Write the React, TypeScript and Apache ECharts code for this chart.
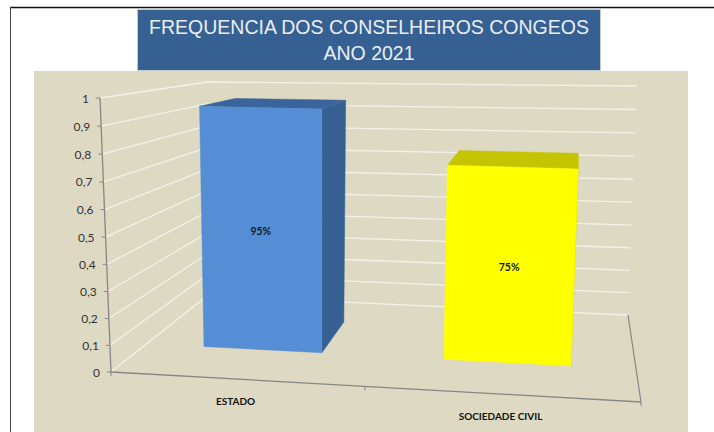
import React, { useEffect, useRef } from "react";
import * as echarts from "echarts";

const categories = ["ESTADO", "SOCIEDADE CIVIL"];
const frequencies = [0.95, 0.75];
const percentLabels = ["95%", "75%"];
const yTicks = [0, 0.1, 0.2, 0.3, 0.4, 0.5, 0.6, 0.7, 0.8, 0.9, 1];
const titleLines = ["FREQUENCIA DOS CONSELHEIROS CONGEOS", "ANO 2021"];

const G = { left: 111, top: 98, w: 530, h: 274 };
// corners of the 3D box: [x, y]; u across, v up, d into the page
const C = {
  f00: [111, 372], f10: [641, 402], f01: [100, 98], f11: [655, 113],
  b00: [207, 296], b10: [628, 315], b01: [207, 82], b11: [637, 86],
};
const mix = (a: number, b: number, t: number) => a + (b - a) * t;
function project(u: number, v: number, d: number): number[] {
  const w = v - 0.03 * v * (1 - v);
  return [0, 1].map((i) =>
    mix(
      mix(mix(C.f00[i], C.f10[i], u), mix(C.f01[i], C.f11[i], u), w),
      mix(mix(C.b00[i], C.b10[i], u), mix(C.b01[i], C.b11[i], u), w),
      d,
    ),
  );
}
const toU = (px: number) => (px - G.left) / G.w;
const toV = (py: number) => (G.top + G.h - py) / G.h;

const AXIS = "#868686";
const GRIDLINE = "#f3f1ea";
const BAR_STYLE = [
  { front: "#558ed5", top: "#3a659c", side: "#376092" },
  { front: "#ffff00", top: "#c4c400", side: "#c4c400" },
];
const BAR_HALF = [0.1205, 0.13];
const BAR_SHIFT = -0.013;
const D_FRONT = 0.375;
const D_BACK = 0.76;

function poly(points: number[][], fill: string) {
  return { type: "polygon", shape: { points }, style: { fill, stroke: fill, lineWidth: 0.5 } };
}
function line(points: number[][], stroke: string, lineWidth: number) {
  return { type: "polyline", shape: { points }, style: { stroke, lineWidth, fill: "none" } };
}

function renderWall(_: any, api: any) {
  const tick = api.value(1);
  const v = toV(api.coord([0, tick])[1]);
  const a = project(0, v, 0);
  const children: any[] = [
    line([a, project(0, v, 1), project(1, v, 1)], GRIDLINE, 1.3),
    line([[a[0] - 4, a[1]], a], AXIS, 1),
    {
      type: "text",
      style: {
        text: String(tick).replace(".", ","),
        x: a[0] - 11,
        y: a[1],
        align: "right",
        verticalAlign: "middle",
        font: "12px Lato",
        fill: "#333333",
      },
    },
  ];
  return { type: "group", children };
}

function renderFloor(_: any, api: any) {
  const P00 = project(0, 0, 0);
  const P10 = project(1, 0, 0);
  const tickAt = (u: number) => {
    const p = project(u, 0, 0);
    return line([p, [p[0], p[1] + 4]], AXIS, 1);
  };
  const top = project(0, 1, 0);
  return {
    type: "group",
    children: [
      line([top, P00], AXIS, 1.3),
      line([P00, P10], AXIS, 1.3),
      line([project(1, 0, 1), P10], AXIS, 1.2),
      tickAt(0),
      tickAt(0.479),
      tickAt(1),
    ],
  };
}

function renderBar(params: any, api: any) {
  const i = params.dataIndex;
  const c = api.coord([api.value(0), api.value(1)]);
  const u = toU(c[0]) + BAR_SHIFT;
  const v = toV(c[1]);
  const h = BAR_HALF[i];
  const s = BAR_STYLE[i];
  const uL = u - h;
  const uR = u + h;
  const fbl = project(uL, 0, D_FRONT);
  const fbr = project(uR, 0, D_FRONT);
  const ftl = project(uL, v, D_FRONT);
  const ftr = project(uR, v, D_FRONT);
  const btl = project(uL, v, D_BACK);
  const btr = project(uR, v, D_BACK);
  const bbr = project(uR, 0, D_BACK);
  const mid = project(u, v / 2, D_FRONT);
  const labelAnchor = project(u + 0.013, 0, 0);
  return {
    type: "group",
    children: [
      poly([fbr, ftr, btr, bbr], s.side),
      poly([ftl, ftr, btr, btl], s.top),
      poly([fbl, fbr, ftr, ftl], s.front),
      {
        type: "text",
        style: {
          text: percentLabels[i],
          x: mid[0] - 1,
          y: mid[1] + 1,
          align: "center",
          verticalAlign: "middle",
          font: "bold 10.5px Lato",
          fill: "#111a20",
        },
      },
      {
        type: "text",
        style: {
          text: categories[i],
          x: labelAnchor[0] - 8,
          y: labelAnchor[1] + 21.5,
          align: "center",
          verticalAlign: "middle",
          font: "bold 10px Lato",
          fill: "#111111",
        },
      },
    ],
  };
}

export default function App() {
  const ref = useRef<HTMLDivElement>(null);
  useEffect(() => {
    const chart = echarts.init(ref.current!, undefined, { renderer: "svg" });
    chart.setOption({
      animation: false,
      backgroundColor: "#ffffff",
      grid: { left: G.left, top: G.top, width: G.w, height: G.h },
      xAxis: { type: "category", data: categories, show: false },
      yAxis: { type: "value", min: 0, max: 1, interval: 0.1, show: false },
      graphic: [
        { type: "rect", z: -20, shape: { x: 34, y: 71, width: 654, height: 361 }, style: { fill: "#ddd9c3" } },
        { type: "rect", z: -19, shape: { x: 137.5, y: 9.5, width: 463, height: 61 }, style: { fill: "#366092", stroke: "#c4ccd6", lineWidth: 1 } },
        { type: "line", z: -18, shape: { x1: 10, y1: 7.5, x2: 714, y2: 7.5 }, style: { stroke: "#111111", lineWidth: 1.5 } },
        { type: "line", z: -18, shape: { x1: 10.5, y1: 7, x2: 10.5, y2: 432 }, style: { stroke: "#444444", lineWidth: 1 } },
      ],
      title: titleLines.map((text, i) => ({
        text,
        left: 369,
        top: i === 0 ? 17 : 43,
        textAlign: "center",
        padding: 0,
        textStyle: { color: "#e9eef5", fontFamily: "Liberation Sans", fontSize: 19.5, fontWeight: "normal" },
      })),
      series: [
        {
          type: "custom",
          coordinateSystem: "cartesian2d",
          renderItem: renderWall,
          data: yTicks.map((t) => [0, t]),
          encode: { x: 0, y: 1 },
          clip: false,
          silent: true,
          z: 2,
        },
        {
          type: "custom",
          coordinateSystem: "cartesian2d",
          renderItem: renderFloor,
          data: [[0, 0]],
          clip: false,
          silent: true,
          z: 3,
        },
        {
          type: "custom",
          coordinateSystem: "cartesian2d",
          renderItem: renderBar,
          data: frequencies.map((f, i) => [i, f]),
          encode: { x: 0, y: 1 },
          clip: false,
          silent: true,
          z: 4,
        },
      ],
    });
    return () => chart.dispose();
  }, []);
  return <div ref={ref} style={{ position: "absolute", left: 0, top: 0, width: 714, height: 432 }} />;
}
